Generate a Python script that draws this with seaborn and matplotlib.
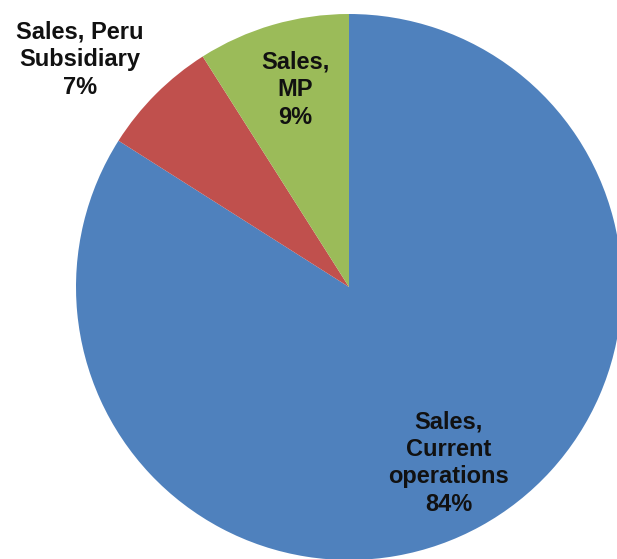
import numpy as np
import matplotlib
matplotlib.use("Agg")
import matplotlib.pyplot as plt
import seaborn as sns

categories = ["Sales,\nCurrent\noperations", "Sales, Peru\nSubsidiary", "Sales,\nMP"]
values = [84, 7, 9]
colors = ["#4F81BD", "#C0504D", "#9BBB59"]
label_dist = [0.74, 1.29, 0.75]
label_turn = [0.7, 4.8, -0.9]

sns.set_theme(style="white")
plt.rcParams['font.family'] = ['Liberation Sans', 'DejaVu Sans']

W, H = 617, 559
fig = plt.figure(figsize=(W / 100, H / 100), dpi=100)
ax = fig.add_axes([0, 0, 1, 1])
cx, cy, R = 349, H - 287, 273
wedges, _ = ax.pie(values, colors=colors, startangle=90, counterclock=False,
                   center=(cx, cy), radius=R, frame=False,
                   wedgeprops=dict(linewidth=0))
total = sum(values)
for w, cat, v, d, t in zip(wedges, categories, values, label_dist, label_turn):
    ang = np.deg2rad((w.theta1 + w.theta2) / 2 + t)
    x = cx + d * R * np.cos(ang)
    y = cy + d * R * np.sin(ang)
    ax.text(x, y, f"{cat}\n{round(100 * v / total)}%", ha="center", va="center",
            fontsize=17, fontweight="bold", color="#111111", linespacing=1.25)
ax.set_xlim(0, W)
ax.set_ylim(0, H)
ax.set_aspect("equal")
ax.axis("off")
fig.savefig("out.png", dpi=100)
